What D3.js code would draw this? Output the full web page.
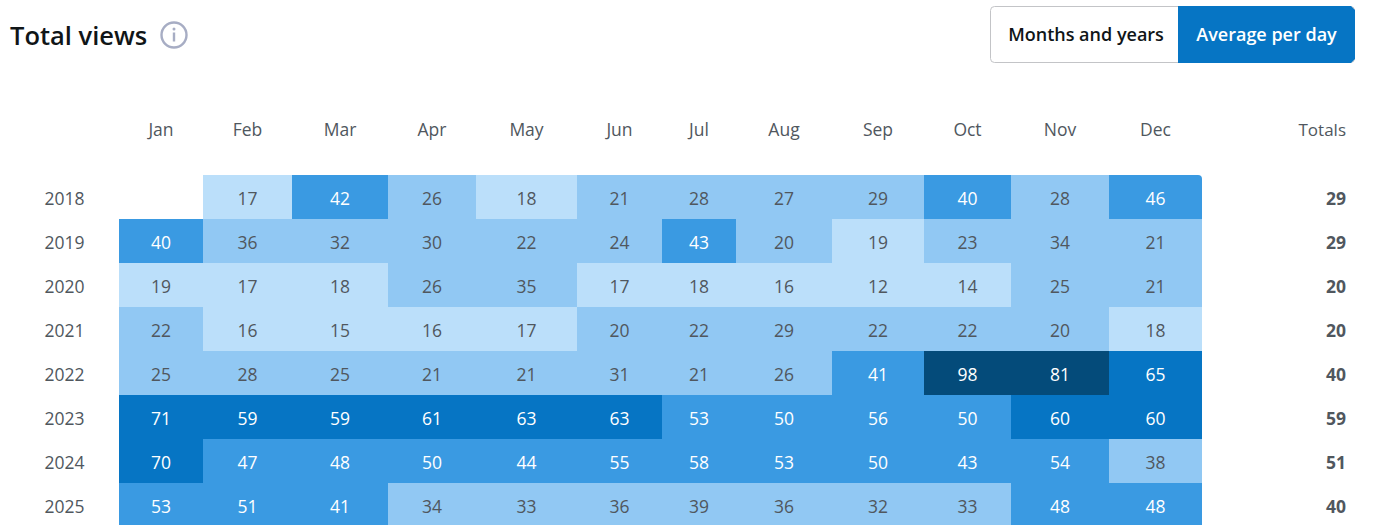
<!DOCTYPE html>
<html>
<head>
<meta charset="utf-8">
<script src="https://cdn.jsdelivr.net/npm/d3@7"></script>
<style>
  html, body { margin: 0; padding: 0; background: #fff; overflow: hidden; }
  svg { display: block; font-family: "Open Sans", "Noto Sans", sans-serif; }
</style>
</head>
<body>
<svg id="chart" width="1382" height="525"></svg>
<script>
// data
var months = ["Jan", "Feb", "Mar", "Apr", "May", "Jun", "Jul", "Aug", "Sep", "Oct", "Nov", "Dec"];
var years = [2018, 2019, 2020, 2021, 2022, 2023, 2024, 2025];
var values2018 = [null, 17, 42, 26, 18, 21, 28, 27, 29, 40, 28, 46];
var values2019 = [40, 36, 32, 30, 22, 24, 43, 20, 19, 23, 34, 21];
var values2020 = [19, 17, 18, 26, 35, 17, 18, 16, 12, 14, 25, 21];
var values2021 = [22, 16, 15, 16, 17, 20, 22, 29, 22, 22, 20, 18];
var values2022 = [25, 28, 25, 21, 21, 31, 21, 26, 41, 98, 81, 65];
var values2023 = [71, 59, 59, 61, 63, 63, 53, 50, 56, 50, 60, 60];
var values2024 = [70, 47, 48, 50, 44, 55, 58, 53, 50, 43, 54, 38];
var values2025 = [53, 51, 41, 34, 33, 36, 39, 36, 32, 33, 48, 48];
var totals = [29, 29, 20, 20, 40, 59, 51, 40];
var allValues = [values2018, values2019, values2020, values2021, values2022, values2023, values2024, values2025];

var svg = d3.select("#chart");

// the table columns are not equal width, so x is a piecewise scale over column index
var x = d3.scaleLinear()
	.domain(d3.range(13))
	.range([119, 203, 292, 388, 476, 577, 662, 736, 832, 924, 1011, 1109, 1202]);
var y = d3.scaleBand().domain(years).range([175, 527]);

var color = d3.scaleThreshold()
	.domain([20, 40, 59, 80])
	.range(["#bbdffa", "#91c8f3", "#3a9ae2", "#0675c4", "#044b7a"]);

var grey = "#50575e";
var textDy = y.bandwidth() / 2 + 7.5;

// title + info icon
svg.append("text")
	.attr("x", 10).attr("y", 45)
	.attr("font-size", 25.5).attr("font-weight", 600).attr("fill", "#101517")
	.text("Total views");

var info = svg.append("g").attr("transform", "translate(174,35)");
info.append("circle").attr("r", 12.5).attr("fill", "none").attr("stroke", "#a7adc4").attr("stroke-width", 2.4);
info.append("circle").attr("cy", -6).attr("r", 1.5).attr("fill", "#a7adc4");
info.append("rect").attr("x", -1.2).attr("y", -2.5).attr("width", 2.4).attr("height", 9).attr("fill", "#a7adc4");

// toggle
svg.append("rect")
	.attr("x", 990.5).attr("y", 6.5).attr("width", 364).attr("height", 56).attr("rx", 4)
	.attr("fill", "#fff").attr("stroke", "#c3c4c7");
svg.append("path")
	.attr("d", d3.line()([[1178, 6], [1351, 6], [1355, 10], [1355, 59], [1351, 63], [1178, 63]]))
	.attr("fill", "#0675c4");
svg.append("text")
	.attr("x", 1086).attr("y", 40.5).attr("text-anchor", "middle")
	.attr("font-size", 18).attr("font-weight", 600).attr("fill", "#101517")
	.text("Months and years");
svg.append("text")
	.attr("x", 1266.5).attr("y", 40.5).attr("text-anchor", "middle")
	.attr("font-size", 18).attr("font-weight", 600).attr("fill", "#fff")
	.text("Average per day");

// column headers
svg.selectAll(".month")
	.data(months)
	.join("text")
	.attr("class", "month")
	.attr("x", (d, i) => (x(i) + x(i + 1)) / 2)
	.attr("y", 135.5)
	.attr("text-anchor", "middle")
	.attr("font-size", 17.5).attr("fill", grey)
	.text(d => d);

svg.append("text")
	.attr("x", 1346).attr("y", 135.5).attr("text-anchor", "end")
	.attr("font-size", 17).attr("fill", grey)
	.text("Totals");

// rows
var row = svg.selectAll(".row")
	.data(years)
	.join("g")
	.attr("class", "row")
	.attr("transform", d => "translate(0," + y(d) + ")");

row.append("text")
	.attr("x", 64.5)
	.attr("y", textDy)
	.attr("text-anchor", "middle")
	.attr("font-size", 17.5).attr("fill", grey)
	.text(d => d);

row.append("text")
	.attr("x", 1346)
	.attr("y", textDy)
	.attr("text-anchor", "end")
	.attr("font-size", 17.5).attr("font-weight", 700).attr("fill", grey)
	.text((d, i) => totals[i]);

var cell = row.selectAll(".cell")
	.data((d, i) => allValues[i].map((v, j) => ({ v: v, col: j, rowIdx: i })).filter(c => c.v !== null))
	.join("g")
	.attr("class", "cell");

// top right corner of the table is rounded
cell.append("path")
	.attr("d", function (c) {
		var x0 = x(c.col), x1 = x(c.col + 1), h = y.bandwidth();
		if (c.rowIdx === 0 && c.col === 11) {
			return "M" + x0 + ",0H" + (x1 - 4) + "Q" + x1 + ",0 " + x1 + ",4V" + h + "H" + x0 + "Z";
		}
		return "M" + x0 + ",0H" + x1 + "V" + h + "H" + x0 + "Z";
	})
	.attr("fill", c => color(c.v));

cell.append("text")
	.attr("x", c => (x(c.col) + x(c.col + 1)) / 2)
	.attr("y", textDy)
	.attr("text-anchor", "middle")
	.attr("font-size", 17.5)
	.attr("fill", c => (c.v >= 40 ? "#fff" : grey))
	.text(c => c.v);
</script>
</body>
</html>
